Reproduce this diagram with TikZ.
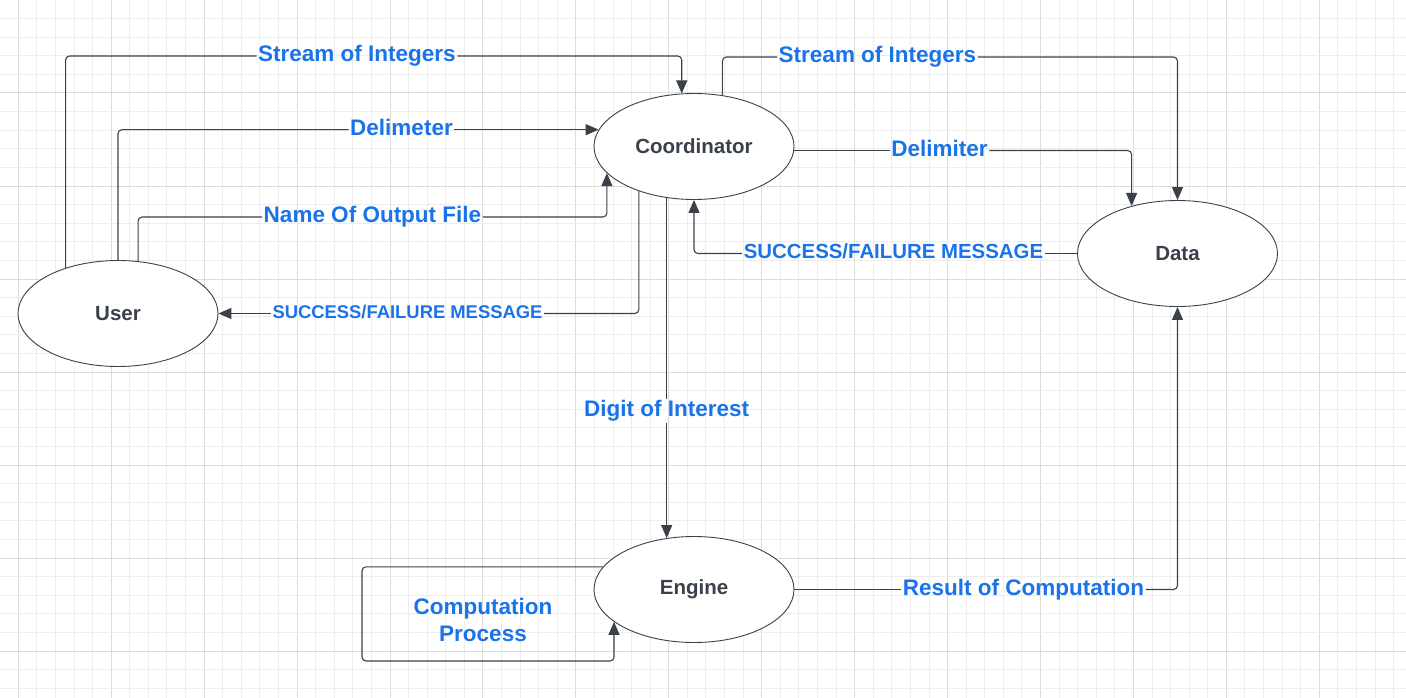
\documentclass[tikz,border=0pt]{standalone}
\usepackage{fontspec}
\setmainfont{Liberation Sans}
\usetikzlibrary{shapes.geometric,arrows.meta}

\definecolor{inkgray}{HTML}{3A414A}
\definecolor{flowblue}{HTML}{1A73E8}
\definecolor{gridminor}{HTML}{EDEDED}
\definecolor{gridmajor}{HTML}{DCDCDC}

\begin{document}
\begin{tikzpicture}[x=1pt,y=-1pt,
    proc/.style={ellipse,draw=inkgray,line width=0.9pt,fill=white,
      minimum width=200pt,minimum height=106pt,inner sep=0pt,
      text=inkgray,font=\bfseries\fontsize{20.5}{24}\selectfont},
    flow/.style={draw=inkgray,line width=1.1pt,rounded corners=4pt},
    tip/.style={-{Triangle[length=13pt,width=11pt]}},
    lbl/.style={inner sep=1.5pt,text=flowblue,
      font=\bfseries\fontsize{22.5}{27}\selectfont},
    onflow/.style={lbl,text height=15.8pt,text depth=4.6pt}]

  % page and grid
  \fill[white] (0,0) rectangle (1406,698);
  \useasboundingbox (0,0) rectangle (1406,698);
  \foreach \k in {0,...,74} {
    \pgfmathtruncatemacro{\maj}{mod(\k,5)==0}
    \ifnum\maj=1
      \draw[gridmajor,line width=1pt] ({18.3+18.586*\k},0) -- ++(0,698);
    \else
      \draw[gridminor,line width=1pt] ({18.3+18.586*\k},0) -- ++(0,698);
    \fi
  }
  \foreach \k in {0,...,37} {
    \pgfmathtruncatemacro{\maj}{mod(\k,5)==0}
    \ifnum\maj=1
      \draw[gridmajor,line width=1pt] (0,{18.6*\k}) -- ++(1406,0);
    \else
      \draw[gridminor,line width=1pt] (0,{18.6*\k}) -- ++(1406,0);
    \fi
  }

  % processes
  \node[proc] (user)   at (118,313.5)   {User};
  \node[proc] (coord)  at (694,146.5)   {Coordinator};
  \node[proc] (data)   at (1177.5,253.5) {Data};
  \node[proc] (engine) at (694,589.5)   {Engine};

  % labels on the flows
  \node[onflow] (s1) at (357,56)              {Stream of Integers};
  \node[onflow] (d1) at (coord.170 -| 401.5,0) {Delimeter};
  \node[onflow] (n1) at (372.5,217)           {Name Of Output File};
  \node[onflow,font=\bfseries\fontsize{18.4}{22}\selectfont,
    text height=12.9pt,text depth=3.8pt] (m1) at (user.east -| 407.5,0) {SUCCESS/FAILURE MESSAGE};
  \node[onflow] (s2) at (877.5,57)            {Stream of Integers};
  \node[onflow] (d2) at (939.5,150.5)         {Delimiter};
  \node[onflow,font=\bfseries\fontsize{20.4}{24}\selectfont,
    text height=14.3pt,text depth=4.2pt] (m2) at (data.west -| 893.5,0) {SUCCESS/FAILURE MESSAGE};
  \node[onflow] (g)  at (coord.242 |- 0,411)  {Digit of Interest};
  \node[onflow] (r)  at (engine.east -| 1023.5,0) {Result of Computation};
  \node[lbl,align=center] (cp) at (483,620) {Computation\\Process};
  \coordinate (loopbl) at (362,661);

  % user -> coordinator
  \draw[flow] (user.139) |- (s1);
  \draw[flow,tip] (s1) -| (coord.103);
  \draw[flow] (user.north) |- (d1);
  \draw[flow,tip] (d1.east) -- (coord.170);
  \draw[flow] (user.69) |- (n1);
  \draw[flow,tip] (n1) -| (coord.197);
  \draw[flow] (coord.219) |- (m1);
  \draw[flow,tip] (m1.west) -- (user.east);

  % coordinator <-> data
  \draw[flow] (coord.61) |- (s2);
  \draw[flow,tip] (s2) -| (data.north);
  \draw[flow] (coord.east |- d2.west) -- (d2.west);
  \draw[flow,tip] (d2) -| (data.134);
  \draw[flow] (data.west) -- (m2.east);
  \draw[flow,tip] (m2) -| (coord.south);

  % engine
  \draw[flow] (coord.242) -- (g);
  \draw[flow,tip] (g.south) -- (g.south |- engine.118);
  \draw[flow] (engine.east) -- (r.west);
  \draw[flow,tip] (r) -| (data.south);
  \draw[flow,tip] (engine.166) -| (loopbl) -| (engine.202);

\end{tikzpicture}
\end{document}
